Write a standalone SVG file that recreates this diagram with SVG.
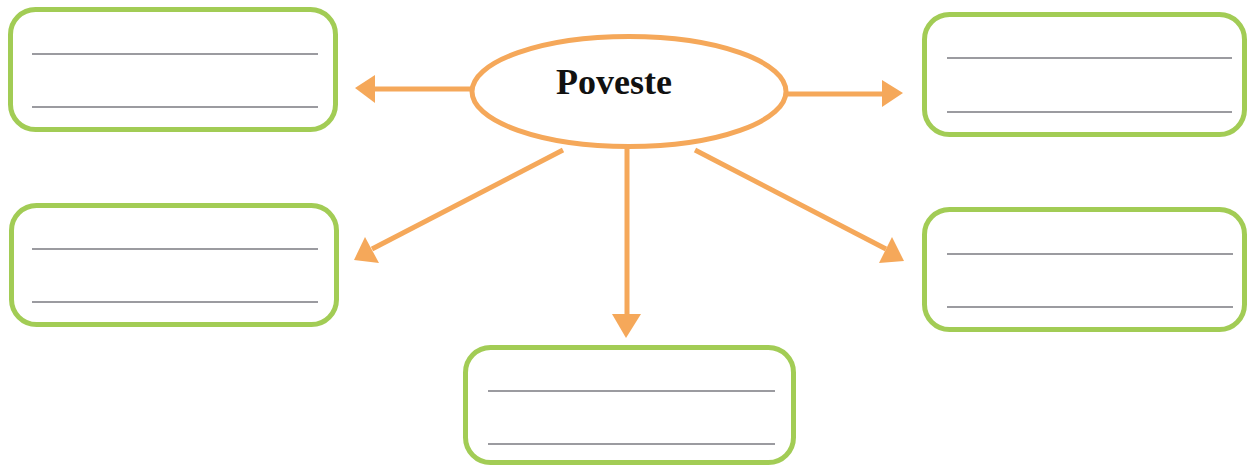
<svg xmlns="http://www.w3.org/2000/svg" width="1250" height="466" viewBox="0 0 1250 466">
  <style>
    .box { fill: #ffffff; stroke: #a2cc55; stroke-width: 5; }
    .rule { stroke: #7a7a80; stroke-width: 1.3; }
    .conn { stroke: #f5a85a; stroke-width: 5; fill: none; }
    .head { fill: #f5a85a; }
    .oval { fill: #ffffff; stroke: #f5a85a; stroke-width: 5; }
    .title { font-family: "Liberation Serif", "Times New Roman", serif; font-weight: bold; font-size: 36px; fill: #111111; }
  </style>
  <rect width="1250" height="466" fill="#ffffff"/>

  <g id="connectors">
    <line class="conn" x1="471" y1="89" x2="372" y2="89"/>
    <polygon class="head" points="355,88 375,75 375,103"/>
    <line class="conn" x1="787" y1="94" x2="885" y2="94"/>
    <polygon class="head" points="903,93 882,80 882,107"/>
    <line class="conn" x1="563" y1="150" x2="372" y2="249"/>
    <polygon class="head" points="354,260 365,237 379,263"/>
    <line class="conn" x1="695" y1="150" x2="886" y2="249"/>
    <polygon class="head" points="904,261 892,237 879,263"/>
    <line class="conn" x1="627" y1="147" x2="627" y2="318"/>
    <polygon class="head" points="626,338 612,314 641,314"/>
  </g>

  <g id="center">
    <ellipse class="oval" cx="629" cy="91.5" rx="157" ry="55"/>
    <text class="title" x="614" y="94" text-anchor="middle">Poveste</text>
  </g>

  <g id="box-top-left">
    <rect class="box" x="10.5" y="9.5" width="325" height="120" rx="25"/>
    <line class="rule" x1="32" y1="54" x2="318" y2="54"/>
    <line class="rule" x1="32" y1="107" x2="318" y2="107"/>
  </g>
  <g id="box-top-right">
    <rect class="box" x="924.5" y="14.5" width="320" height="120" rx="25"/>
    <line class="rule" x1="947" y1="58" x2="1232" y2="58"/>
    <line class="rule" x1="947" y1="112" x2="1232" y2="112"/>
  </g>
  <g id="box-mid-left">
    <rect class="box" x="11.5" y="205.5" width="325" height="119" rx="25"/>
    <line class="rule" x1="32" y1="249" x2="318" y2="249"/>
    <line class="rule" x1="32" y1="302" x2="318" y2="302"/>
  </g>
  <g id="box-mid-right">
    <rect class="box" x="924.5" y="209.5" width="320" height="120" rx="25"/>
    <line class="rule" x1="947" y1="254" x2="1233" y2="254"/>
    <line class="rule" x1="947" y1="307" x2="1233" y2="307"/>
  </g>
  <g id="box-bottom">
    <rect class="box" x="465.5" y="347.5" width="328" height="115" rx="25"/>
    <line class="rule" x1="488" y1="391" x2="775" y2="391"/>
    <line class="rule" x1="488" y1="444" x2="775" y2="444"/>
  </g>
</svg>
